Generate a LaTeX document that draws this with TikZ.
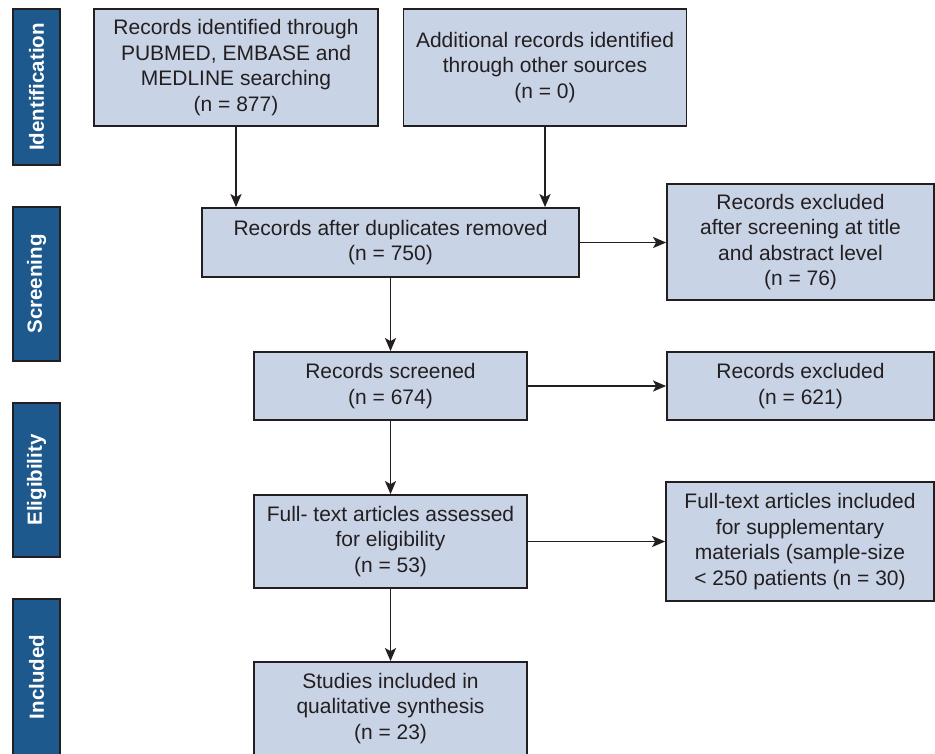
\documentclass[tikz,border=0pt]{standalone}
\usepackage{fontspec}
\setmainfont{Liberation Sans}
\usetikzlibrary{arrows.meta}
\definecolor{boxfill}{RGB}{201,211,230}
\definecolor{barfill}{RGB}{29,89,140}
\definecolor{ink}{RGB}{35,31,32}
\begin{document}
\begin{tikzpicture}[x=1pt,y=-1pt,
  box/.style={draw=ink, line width=1.8pt, fill=boxfill, text=ink, align=center,
    inner sep=0pt, font=\fontsize{21}{25.6}\selectfont},
  sidebar/.style={draw=ink, line width=1.5pt, fill=barfill, text=white,
    minimum height=47pt, inner sep=0pt, rotate=90,
    font=\fontsize{20.5}{24}\selectfont\bfseries},
  flow/.style={draw=ink, line width=1.8pt, -{Stealth[length=13pt,width=11pt,inset=3pt]}}]
\useasboundingbox (0,0) rectangle (935,753);
% side bars
\node[sidebar, minimum width=156pt] (s1) at (36.5,87) {Identification};
\node[sidebar, minimum width=154pt] (s2) at (36.5,284) {Screening};
\node[sidebar, minimum width=154pt] (s3) at (36.5,480) {Eligibility};
\node[sidebar, minimum width=156pt] (s4) at (36.5,677) {Included};
% boxes
\node[box, minimum width=284pt, minimum height=117pt] (a) at (236,67.5)
  {Records identified through\\PUBMED, EMBASE and\\MEDLINE searching\\(n = 877)};
\node[box, minimum width=283pt, minimum height=117pt] (b) at (545,67.5)
  {Additional records identified\\through other sources\\(n = 0)};
\node[box, minimum width=377pt, minimum height=69pt] (c) at (390.5,242.5)
  {Records after duplicates removed\\(n = 750)};
\node[box, minimum width=267pt, minimum height=116pt] (d) at (800.5,242)
  {Records excluded\\after screening at title\\and abstract level\\(n = 76)};
\node[box, minimum width=273pt, minimum height=68pt] (e) at (390.5,386)
  {Records screened\\(n = 674)};
\node[box, minimum width=267pt, minimum height=68pt] (f) at (800.5,386)
  {Records excluded\\(n = 621)};
\node[box, minimum width=273pt, minimum height=93pt] (g) at (390.5,541.5)
  {Full- text articles assessed\\for eligibility\\(n = 53)};
\node[box, minimum width=268pt, minimum height=119pt] (h) at (800,541.5)
  {Full-text articles included\\for supplementary\\materials (sample-size\\< 250 patients (n = 30)};
\node[box, minimum width=273pt, minimum height=93pt] (i) at (390.5,708.5)
  {Studies included in\\qualitative synthesis\\(n = 23)};
% connectors
\draw[flow] (a.south) -- (a.south |- c.north);
\draw[flow] (b.south) -- (b.south |- c.north);
\draw[flow] (c.east) -- (d.west |- c.east);
\draw[flow] (c.south) -- (e.north);
\draw[flow] (e.east) -- (f.west);
\draw[flow] (e.south) -- (g.north);
\draw[flow] (g.east) -- (h.west |- g.east);
\draw[flow] (g.south) -- (i.north);
\end{tikzpicture}
\end{document}
